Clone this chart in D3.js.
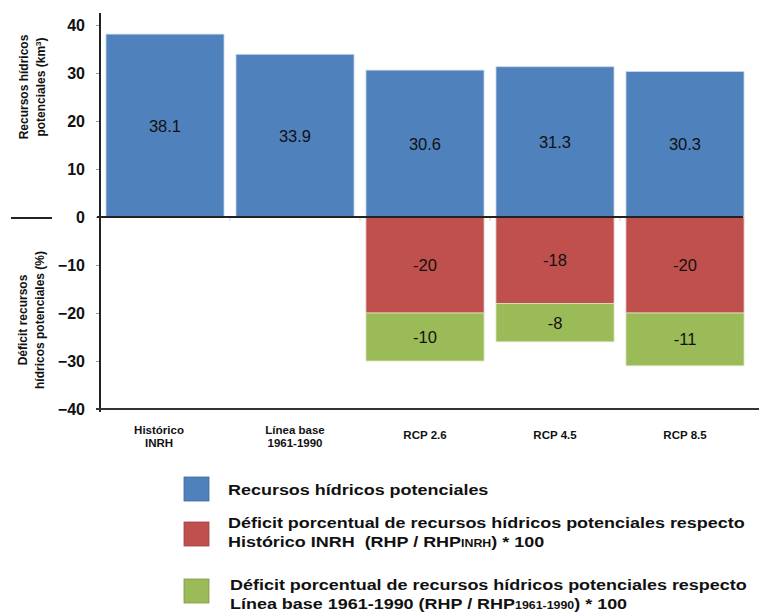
<!DOCTYPE html>
<html>
<head>
<meta charset="utf-8">
<script src="https://cdn.jsdelivr.net/npm/d3@7"></script>
<style>
  html, body { margin: 0; padding: 0; background: #fff; }
  svg { display: block; font-family: "Liberation Sans", Arial, sans-serif; }
</style>
</head>
<body>
<svg id="chart" width="759" height="612"></svg>
<script>
// Potential water resources (km3) per period / scenario
const categories = ["hist", "base", "rcp26", "rcp45", "rcp85"];
const categoryLabels = [["Histórico", "INRH"], ["Línea base", "1961-1990"], ["RCP 2.6"], ["RCP 4.5"], ["RCP 8.5"]];
const recursos = [38.1, 33.9, 30.6, 31.3, 30.3];
// Percent deficit relative to Histórico INRH
const deficitHistorico = [null, null, -20, -18, -20];
// Percent deficit relative to Línea base 1961-1990 (stacked below the previous one)
const deficitBase = [null, null, -10, -8, -11];
const yTicks = [40, 30, 20, 10, 0, -10, -20, -30, -40];

const colors = { blue: "#4F81BD", red: "#C0504D", green: "#9BBB59" };

const svg = d3.select("#chart");

const x = d3.scaleBand().domain(categories).range([100, 750]).paddingInner(0.092).paddingOuter(0.046);
const y = d3.scaleLinear().domain([-40, 40]).range([409, 25]);
const cx = d => x(d) + x.bandwidth() / 2;

// Blue bars (positive values)
svg.append("g").selectAll("rect").data(categories).join("rect")
  .attr("x", d => x(d))
  .attr("width", x.bandwidth())
  .attr("y", (d, i) => y(recursos[i]))
  .attr("height", (d, i) => y(0) - y(recursos[i]))
  .attr("fill", colors.blue)
  .attr("stroke", "#c9d7ea").attr("stroke-width", 0.8);

// Red deficit bars
const redIdx = categories.map((c, i) => i).filter(i => deficitHistorico[i] !== null);
svg.append("g").selectAll("rect").data(redIdx).join("rect")
  .attr("x", i => x(categories[i]))
  .attr("width", x.bandwidth())
  .attr("y", y(0))
  .attr("height", i => y(deficitHistorico[i]) - y(0))
  .attr("fill", colors.red)
  .attr("stroke", "#e6c3c2").attr("stroke-width", 0.8);

// Green deficit bars stacked below the red ones
svg.append("g").selectAll("rect").data(redIdx).join("rect")
  .attr("x", i => x(categories[i]))
  .attr("width", x.bandwidth())
  .attr("y", i => y(deficitHistorico[i]))
  .attr("height", i => y(deficitHistorico[i] + deficitBase[i]) - y(deficitHistorico[i]))
  .attr("fill", colors.green)
  .attr("stroke", "#d9e5c3").attr("stroke-width", 0.8);

// Value labels
const labelStyle = sel => sel.attr("text-anchor", "middle").attr("dominant-baseline", "central")
  .attr("font-size", 16.5).attr("fill", "#111");
svg.append("g").selectAll("text").data(categories).join("text")
  .attr("x", d => cx(d))
  .attr("y", (d, i) => (y(recursos[i]) + y(0)) / 2)
  .text((d, i) => recursos[i].toFixed(1))
  .call(labelStyle);
svg.append("g").selectAll("text").data(redIdx).join("text")
  .attr("x", i => cx(categories[i]))
  .attr("y", i => (y(0) + y(deficitHistorico[i])) / 2)
  .text(i => deficitHistorico[i])
  .call(labelStyle);
svg.append("g").selectAll("text").data(redIdx).join("text")
  .attr("x", i => cx(categories[i]))
  .attr("y", i => (y(deficitHistorico[i]) + y(deficitHistorico[i] + deficitBase[i])) / 2)
  .text(i => deficitBase[i])
  .call(labelStyle);

// Y axis
const yAxis = svg.append("g").attr("transform", "translate(100,0)")
  .call(d3.axisLeft(y).tickValues(yTicks).tickSize(4).tickPadding(11));
yAxis.select(".domain").remove();
yAxis.selectAll(".tick line").attr("stroke", "#999");
yAxis.selectAll(".tick text").attr("font-size", 16).attr("font-weight", "bold")
  .attr("font-family", "Liberation Sans, Arial, sans-serif").attr("fill", "#111");
svg.append("line").attr("x1", 100).attr("x2", 100).attr("y1", 13).attr("y2", 412)
  .attr("stroke", "#222").attr("stroke-width", 2);

// Zero line and faint category separators
svg.append("g").selectAll("line").data(categories.slice(1)).join("line")
  .attr("x1", d => x(d) - x.step() * x.paddingInner() / 2)
  .attr("x2", d => x(d) - x.step() * x.paddingInner() / 2)
  .attr("y1", y(0)).attr("y2", y(0) + 4)
  .attr("stroke", "#ccc");
svg.append("line").attr("x1", 97).attr("x2", 743).attr("y1", y(0)).attr("y2", y(0))
  .attr("stroke", "#222").attr("stroke-width", 2);

// Bottom axis line
svg.append("line").attr("x1", 96).attr("x2", 759).attr("y1", y(-40)).attr("y2", y(-40))
  .attr("stroke", "#333").attr("stroke-width", 2);

// Category captions
svg.append("g").selectAll("text").data(categories).join("text")
  .attr("text-anchor", "middle").attr("font-size", 11.5).attr("font-weight", "bold").attr("fill", "#111")
  .each(function(d, i) {
    const lines = categoryLabels[i];
    const t = d3.select(this);
    const y0 = lines.length === 1 ? 439 : 434;
    const xc = cx(d) - (i === 0 ? 6 : 0);
    lines.forEach((l, k) => t.append("tspan").attr("x", xc).attr("y", y0 + k * 13).text(l));
  });

// Y axis titles
const title = (tx, ty, lines) => {
  const t = svg.append("text").attr("transform", `translate(${tx},${ty}) rotate(-90)`)
    .attr("text-anchor", "middle").attr("font-size", 12).attr("font-weight", "bold").attr("fill", "#111");
  lines.forEach((l, k) => {
    const ts = t.append("tspan").attr("x", 0).attr("y", k * 17);
    if (typeof l === "string") ts.text(l);
    else l.forEach(p => ts.append("tspan").attr("baseline-shift", p.sup ? "super" : null)
      .attr("font-size", p.sup ? 8 : null).text(p.t));
  });
};
title(28, 87, ["Recursos hídricos", [{ t: "potenciales (km" }, { t: "3", sup: true }, { t: ")" }]]);
title(27, 320, ["Déficit recursos", "hídricos potenciales (%)"]);
svg.append("line").attr("x1", 11).attr("x2", 52).attr("y1", 218).attr("y2", 218)
  .attr("stroke", "#222").attr("stroke-width", 2);

// Legend
const legendItems = [
  { color: colors.blue, sy: 477, tx: 228, ty: 495, lines: [[{ t: "Recursos hídricos potenciales" }]] },
  { color: colors.red, sy: 522, tx: 228, ty: 528, lines: [
      [{ t: "Déficit porcentual de recursos hídricos potenciales respecto" }],
      [{ t: "Histórico INRH \u00a0(RHP / RHP" }, { t: "INRH", sub: true }, { t: ") * 100" }]] },
  { color: colors.green, sy: 579, tx: 230, ty: 590, lines: [
      [{ t: "Déficit porcentual de recursos hídricos potenciales respecto" }],
      [{ t: "Línea base 1961-1990 (RHP / RHP" }, { t: "1961-1990", sub: true }, { t: ") * 100" }]] }
];
const lg = svg.append("g");
const legendTexts = [];
legendItems.forEach(it => {
  lg.append("rect").attr("x", 184).attr("y", it.sy).attr("width", 25).attr("height", 24)
    .attr("fill", it.color).attr("stroke", d3.color(it.color).darker(0.6)).attr("stroke-width", 0.8);
  it.lines.forEach((parts, k) => {
    const t = lg.append("text").attr("font-size", 14.5).attr("font-weight", "bold").attr("fill", "#111")
      .attr("data-x", it.tx).attr("data-y", it.ty + k * 19);
    parts.forEach(p => t.append("tspan").attr("font-size", p.sub ? 10 : null).text(p.t));
    legendTexts.push(t);
  });
});
// Legend lettering is set wide: stretch so the long lines span to the right edge
const longest = legendTexts[1].node().getComputedTextLength();
const sx = (745 - 228) / longest;
legendTexts.forEach(t => t.attr("transform", `translate(${t.attr("data-x")},${t.attr("data-y")}) scale(${sx},1)`));
</script>
</body>
</html>
